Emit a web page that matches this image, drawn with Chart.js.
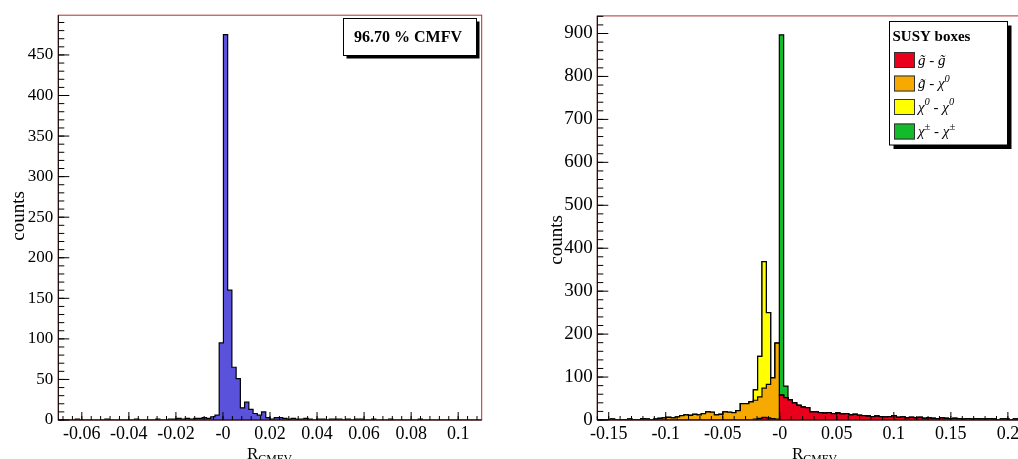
<!DOCTYPE html>
<html>
<head>
<meta charset="utf-8">
<script src="https://cdn.jsdelivr.net/npm/chart.js@4.4.1/dist/chart.umd.min.js"></script>
<style>
  html, body { margin: 0; padding: 0; background: #fff; width: 1018px; height: 459px; overflow: hidden; }
  .pad { position: absolute; top: 0; height: 459px; }
  #padLeft { left: 0; width: 500px; }
  #padRight { left: 510px; width: 530px; }
</style>
</head>
<body>
<div class="pad" id="padLeft"><canvas id="cmfv"></canvas></div>
<div class="pad" id="padRight"><canvas id="susy"></canvas></div>
<script>
var SERIF = "'Liberation Serif', 'Times New Roman', serif";

// ---- left pad: R_CMFV, 100 bins on [-0.07, 0.11]
var cmfvRange = [-0.07, 0.11];
var cmfvCounts = [
  0, 0, 0, 0, 1, 0, 0, 0, 0, 0,
  0, 1, 0, 0, 0, 0, 0, 0, 1, 0,
  0, 0, 0, 1, 0, 0, 1, 1, 2, 1,
  2, 1, 2, 2, 3, 2, 4, 6, 95, 475,
  160, 65, 51, 15, 22, 13, 8, 6, 10, 3,
  1, 3, 3, 2, 1, 2, 1, 1, 2, 1,
  0, 1, 1, 0, 1, 1, 1, 0, 1, 0,
  1, 1, 0, 0, 1, 0, 0, 0, 1, 0,
  0, 0, 0, 0, 0, 1, 0, 0, 0, 0,
  0, 0, 0, 0, 0, 0, 0, 0, 0, 0
];
var cmfvXTicks = [-0.06, -0.04, -0.02, 0, 0.02, 0.04, 0.06, 0.08, 0.1];
var cmfvXLabels = ['-0.06', '-0.04', '-0.02', '-0', '0.02', '0.04', '0.06', '0.08', '0.1'];
var cmfvYTicks = [0, 50, 100, 150, 200, 250, 300, 350, 400, 450];
var cmfvYMax = 499;
var cmfvFraction = '96.70 % CMFV';

// ---- right pad: same quantity split by SUSY box, 100 bins on [-0.16, 0.22]
var susyRange = [-0.16, 0.22];
var gluinoGluino = [
  0, 0, 0, 0, 0, 0, 0, 0, 0, 0,
  0, 0, 0, 0, 0, 0, 0, 0, 0, 0,
  0, 0, 0, 0, 0, 0, 0, 0, 0, 0,
  0, 0, 0, 0, 0, 0, 2, 4, 6, 5,
  3, 2, 58, 52, 47, 40, 34, 30, 29, 19,
  19, 17, 16, 17, 15, 16, 14, 15, 12, 13,
  11, 10, 9, 8, 9, 8, 7, 8, 10, 6,
  7, 5, 6, 5, 6, 4, 5, 4, 3, 5,
  4, 3, 4, 3, 2, 3, 2, 3, 2, 2,
  3, 2, 1, 2, 2, 1, 2, 1, 1, 1
];
var gluinoNeutralino = [
  1, 0, 1, 2, 1, 0, 1, 2, 1, 1,
  3, 2, 1, 2, 4, 5, 6, 5, 7, 10,
  12, 11, 13, 12, 15, 19, 18, 12, 13, 19,
  18, 17, 22, 38, 38, 42, 44, 50, 68, 78,
  95, 177, 0, 0, 0, 0, 0, 0, 0, 0,
  0, 0, 0, 0, 0, 0, 0, 0, 0, 0,
  0, 0, 0, 0, 0, 0, 0, 0, 0, 0,
  0, 0, 0, 0, 0, 0, 0, 0, 0, 0,
  0, 0, 0, 0, 0, 0, 0, 0, 0, 0,
  0, 0, 0, 0, 0, 0, 0, 0, 0, 0
];
var neutralinoNeutralino = [
  0, 0, 0, 0, 0, 0, 0, 0, 0, 0,
  0, 0, 0, 0, 0, 0, 0, 0, 0, 0,
  0, 0, 0, 0, 0, 0, 0, 0, 0, 0,
  0, 0, 0, 0, 0, 0, 24, 94, 295, 167,
  0, 0, 0, 0, 0, 0, 0, 0, 0, 0,
  0, 0, 0, 0, 0, 0, 0, 0, 0, 0,
  0, 0, 0, 0, 0, 0, 0, 0, 0, 0,
  0, 0, 0, 0, 0, 0, 0, 0, 0, 0,
  0, 0, 0, 0, 0, 0, 0, 0, 0, 0,
  0, 0, 0, 0, 0, 0, 0, 0, 0, 0
];
var charginoChargino = [
  0, 0, 0, 0, 0, 0, 0, 0, 0, 0,
  0, 0, 0, 0, 0, 0, 0, 0, 0, 0,
  0, 0, 0, 0, 0, 0, 0, 0, 0, 0,
  0, 0, 0, 0, 0, 0, 0, 0, 0, 0,
  0, 0, 839, 27, 0, 0, 0, 0, 0, 0,
  0, 0, 0, 0, 0, 0, 0, 0, 0, 0,
  0, 0, 0, 0, 0, 0, 0, 0, 0, 0,
  0, 0, 0, 0, 0, 0, 0, 0, 0, 0,
  0, 0, 0, 0, 0, 0, 0, 0, 0, 0,
  0, 0, 0, 0, 0, 0, 0, 0, 0, 0
];
var susyXTicks = [-0.15, -0.1, -0.05, 0, 0.05, 0.1, 0.15, 0.2];
var susyXLabels = ['-0.15', '-0.1', '-0.05', '-0', '0.05', '0.1', '0.15', '0.2'];
var susyYTicks = [0, 100, 200, 300, 400, 500, 600, 700, 800, 900];
var susyYMax = 941;
var susyBoxes = ['gluino-gluino', 'gluino-neutralino', 'neutralino-neutralino', 'chargino-chargino'];
var susyColors = ['#e8001c', '#f6aa00', '#ffff00', '#12bb2a'];

// histogram outline: flat top over each bin, dropping to zero at both ends
function histPoints(range, vals) {
  var w = (range[1] - range[0]) / vals.length;
  var pts = [{x: range[0], y: 0}];
  vals.forEach(function (v, i) {
    pts.push({x: range[0] + i * w, y: v});
    pts.push({x: range[0] + (i + 1) * w, y: v});
  });
  pts.push({x: range[1], y: 0});
  return pts;
}

// running sums so every layer sits on the previous ones
function stackUp(layers) {
  var run = layers[0].map(function () { return 0; });
  return layers.map(function (l) {
    run = run.map(function (r, i) { return r + l[i]; });
    return run.slice();
  });
}

// frame plus inward-pointing major/minor ticks
var rootAxes = {
  id: 'rootAxes',
  afterDatasetsDraw: function (chart, args, o) {
    var ctx = chart.ctx, a = chart.chartArea, xs = chart.scales.x, ys = chart.scales.y;
    ctx.save();
    ctx.lineWidth = 1;
    ctx.strokeStyle = o.frame;
    ctx.strokeRect(a.left, a.top, a.right - a.left, a.bottom - a.top);
    ctx.strokeStyle = '#000';
    ctx.beginPath();
    ctx.moveTo(a.left, a.top);
    ctx.lineTo(a.left, a.bottom);
    ctx.lineTo(a.right, a.bottom);
    xs.ticks.forEach(function (t) {
      var p = xs.getPixelForValue(t.value);
      ctx.moveTo(p, a.bottom); ctx.lineTo(p, a.bottom - o.xMajorLen);
    });
    var k, v, p;
    for (k = Math.ceil(xs.min / o.xMinor - 1e-6); (v = k * o.xMinor) <= xs.max + 1e-9; k++) {
      p = xs.getPixelForValue(v);
      ctx.moveTo(p, a.bottom); ctx.lineTo(p, a.bottom - o.xMinorLen);
    }
    ys.ticks.forEach(function (t) {
      var q = ys.getPixelForValue(t.value);
      ctx.moveTo(a.left, q); ctx.lineTo(a.left + o.yMajorLen, q);
    });
    for (k = 0; (v = k * o.yMinor) <= ys.max; k++) {
      p = ys.getPixelForValue(v);
      ctx.moveTo(a.left, p); ctx.lineTo(a.left + o.yMinorLen, p);
    }
    ctx.stroke();
    ctx.restore();
  }
};

// text made of normal / superscript / subscript pieces
function drawRuns(ctx, x, y, runs, size, style) {
  runs.forEach(function (r) {
    var small = r[1] === 'sub' || r[1] === 'sup';
    var s = small ? size * 0.7 : size;
    ctx.font = style + ' ' + s + 'px ' + SERIF;
    var dy = r[1] === 'sub' ? size * 0.22 : (r[1] === 'sup' ? -size * 0.38 : 0);
    ctx.fillText(r[0], x, y + dy);
    x += ctx.measureText(r[0]).width;
  });
}

function axisTitles(ctx, o) {
  ctx.save();
  ctx.fillStyle = '#000';
  ctx.textBaseline = 'alphabetic';
  ctx.textAlign = 'left';
  drawRuns(ctx, o.xTitleX, 459, [['R'], ['CMFV', 'sub']], 17, '');
  ctx.translate(o.yTitleX, o.yTitleY);
  ctx.rotate(-Math.PI / 2);
  ctx.font = '19px ' + SERIF;
  ctx.textAlign = 'center';
  ctx.textBaseline = 'middle';
  ctx.fillText('counts', 0, 0);
  ctx.restore();
}

function shadowBox(ctx, x, y, w, h, off) {
  ctx.fillStyle = '#000';
  ctx.fillRect(x + off, y + off, w, h);
  ctx.fillStyle = '#fff';
  ctx.fillRect(x, y, w, h);
  ctx.strokeStyle = '#000';
  ctx.lineWidth = 1;
  ctx.strokeRect(x, y, w, h);
}

function baseOptions(range, xTicks, xLabels, yTicks, yMax, geo) {
  return {
    responsive: true,
    maintainAspectRatio: false,
    animation: false,
    events: [],
    layout: {padding: {left: 0, top: 14, right: geo.padRight, bottom: 0}},
    elements: {point: {radius: 0}, line: {tension: 0}},
    plugins: {legend: {display: false}, tooltip: {enabled: false}, rootAxes: geo.ticks},
    scales: {
      x: {
        type: 'linear', min: range[0], max: range[1],
        grid: {display: false, drawTicks: false}, border: {display: false},
        afterBuildTicks: function (s) { s.ticks = xTicks.map(function (v) { return {value: v}; }); },
        afterFit: function (s) { s.height = 39; },
        ticks: {
          autoSkip: false, maxRotation: 0, padding: 3, color: '#000',
          font: {family: SERIF, size: 18},
          callback: function (v, i) { return xLabels[i]; }
        }
      },
      y: {
        min: 0, max: yMax,
        grid: {display: false, drawTicks: false}, border: {display: false},
        afterBuildTicks: function (s) { s.ticks = yTicks.map(function (v) { return {value: v}; }); },
        afterFit: function (s) { s.width = geo.yWidth; },
        ticks: {
          padding: geo.yPad, color: '#000',
          font: {family: SERIF, size: geo.ySize}
        }
      }
    }
  };
}

// left pad
new Chart(document.getElementById('cmfv'), {
  type: 'line',
  data: {
    datasets: [{
      data: histPoints(cmfvRange, cmfvCounts),
      borderColor: '#000', borderWidth: 1.2,
      backgroundColor: '#5a52da', fill: 'origin'
    }]
  },
  options: baseOptions(cmfvRange, cmfvXTicks, cmfvXLabels, cmfvYTicks, cmfvYMax, {
    padRight: 18.3, yWidth: 58.3, yPad: 5, ySize: 17,
    ticks: {frame: '#b03030', xMinor: 0.004, xMajorLen: 8, xMinorLen: 4, yMinor: 10, yMajorLen: 11, yMinorLen: 6}
  }),
  plugins: [rootAxes, {
    id: 'cmfvText',
    afterDraw: function (chart) {
      var ctx = chart.ctx;
      axisTitles(ctx, {xTitleX: 247, yTitleX: 19, yTitleY: 216});
      ctx.save();
      shadowBox(ctx, 343.5, 18.5, 133, 37, 3);
      ctx.fillStyle = '#000';
      ctx.font = 'bold 16px ' + SERIF;
      ctx.textAlign = 'center';
      ctx.textBaseline = 'middle';
      ctx.fillText(cmfvFraction, 408, 38);
      ctx.restore();
    }
  }]
});

// right pad: layers drawn as running sums, lowest layer painted last
var susyStack = stackUp([gluinoGluino, gluinoNeutralino, neutralinoNeutralino, charginoChargino]);
var legendRuns = [
  [['g\u0303 - g\u0303']],
  [['g\u0303 - \u03c7'], ['0', 'sup']],
  [['\u03c7'], ['0', 'sup'], [' - \u03c7'], ['0', 'sup']],
  [['\u03c7'], ['\u00b1', 'sup'], [' - \u03c7'], ['\u00b1', 'sup']]
];

new Chart(document.getElementById('susy'), {
  type: 'line',
  data: {
    datasets: susyStack.map(function (vals, i) {
      return {
        label: susyBoxes[i],
        data: histPoints(susyRange, vals),
        borderColor: '#000', borderWidth: 1.2,
        backgroundColor: susyColors[i], fill: 'origin'
      };
    })
  },
  options: baseOptions(susyRange, susyXTicks, susyXLabels, susyYTicks, susyYMax, {
    padRight: 9.3, yWidth: 87.3, yPad: 4.5, ySize: 19,
    ticks: {frame: '#b03030', xMinor: 0.01, xMajorLen: 8, xMinorLen: 4, yMinor: 20, yMajorLen: 11, yMinorLen: 6}
  }),
  plugins: [rootAxes, {
    id: 'susyText',
    afterDraw: function (chart) {
      var ctx = chart.ctx;
      axisTitles(ctx, {xTitleX: 282, yTitleX: 47.5, yTitleY: 240});
      ctx.save();
      shadowBox(ctx, 379.5, 21.5, 118, 123.5, 4);
      ctx.fillStyle = '#000';
      ctx.font = 'bold 15px ' + SERIF;
      ctx.textBaseline = 'middle';
      ctx.fillText('SUSY boxes', 382.5, 37);
      var rows = [60, 83.5, 107, 131.5];
      rows.forEach(function (cy, i) {
        ctx.fillStyle = susyColors[i];
        ctx.fillRect(384, cy - 8, 21, 16);
        ctx.strokeStyle = '#333';
        ctx.lineWidth = 1;
        ctx.strokeRect(384.5, cy - 7.5, 20, 15);
        ctx.fillStyle = '#000';
        ctx.textBaseline = 'middle';
        drawRuns(ctx, 408, cy + 1, legendRuns[i], 15, 'italic');
      });
      ctx.restore();
    }
  }]
});
</script>
</body>
</html>
